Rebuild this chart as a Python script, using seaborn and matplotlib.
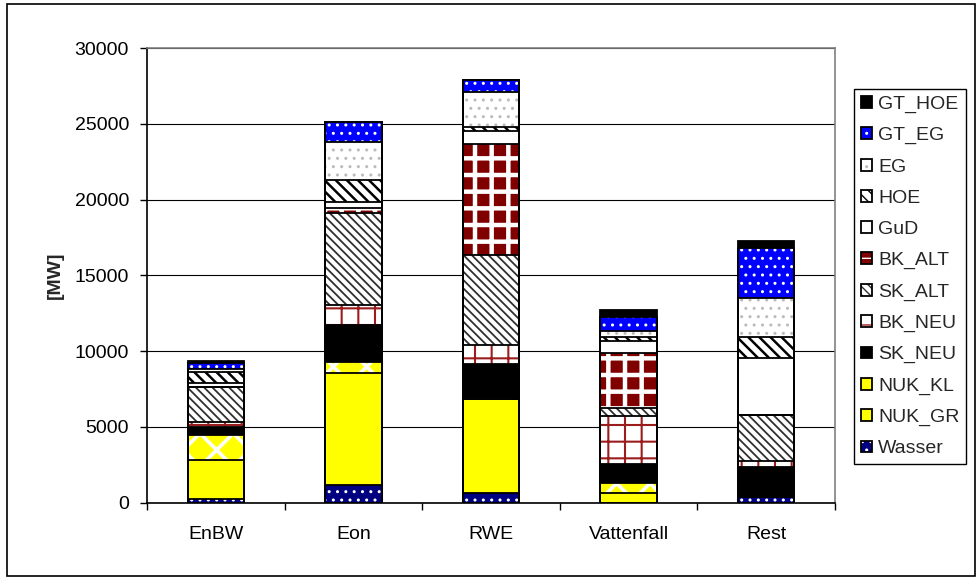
import numpy as np
import pandas as pd
import matplotlib
matplotlib.use('Agg')
import matplotlib.pyplot as plt
import seaborn as sns
from matplotlib.patches import Patch, Rectangle

# data (MW per company)
companies = ['EnBW', 'Eon', 'RWE', 'Vattenfall', 'Rest']
wasser  = [210, 1156, 650, 0, 383]
nuk_gr  = [2600, 7378, 6170, 600, 0]
nuk_kl  = [1650, 766, 0, 700, 0]
sk_neu  = [530, 2424, 2330, 1215, 1942]
bk_neu  = [350, 1321, 1255, 3210, 416]
sk_alt  = [2310, 6096, 5945, 490, 3038]
bk_alt  = [0, 331, 7330, 3672, 0]
gud     = [265, 396, 880, 793, 3785]
hoe     = [700, 1433, 224, 264, 1387]
eg      = [180, 2530, 2353, 397, 2536]
gt_eg   = [400, 1301, 771, 885, 3303]
gt_hoe  = [150, 0, 0, 482, 502]

series_names = ['Wasser', 'NUK_GR', 'NUK_KL', 'SK_NEU', 'BK_NEU', 'SK_ALT',
                'BK_ALT', 'GuD', 'HOE', 'EG', 'GT_EG', 'GT_HOE']
series_vals = [wasser, nuk_gr, nuk_kl, sk_neu, bk_neu, sk_alt,
               bk_alt, gud, hoe, eg, gt_eg, gt_hoe]

# face colour, hatch colour, hatch, hatch linewidth
styles = {
    'Wasser': ('#000080', 'white', '..', 1.0),
    'NUK_GR': ('#FFFF00', '#FFFF00', None, 1.0),
    'NUK_KL': ('#FFFF00', 'white', 'x', 2.6),
    'SK_NEU': ('black', 'black', None, 1.0),
    'BK_NEU': ('white', '#9B1C1C', '+', 1.5),
    'SK_ALT': ('white', '#303030', '\\\\\\\\', 1.3),
    'BK_ALT': ('#800000', 'white', '+', 3.2),
    'GuD':    ('white', 'white', None, 1.0),
    'HOE':    ('white', 'black', '\\\\\\', 1.8),
    'EG':     ('white', '#BBBBBB', '..', 1.0),
    'GT_EG':  ('#0000FF', 'white', '..', 1.0),
    'GT_HOE': ('black', 'black', None, 1.0),
}

df = pd.DataFrame(dict(zip(series_names, series_vals)), index=companies)
cum = df.cumsum(axis=1)

sns.set_theme(style='white')
plt.rcParams['font.family'] = ['Liberation Sans', 'DejaVu Sans']
plt.rcParams['font.size'] = 14

fig = plt.figure(figsize=(9.76, 5.77), dpi=100)
ax = fig.add_axes([147 / 976, 1 - 502.5 / 577, 688 / 976, 454.2 / 577])
ax.set_facecolor('white')

ax.set_ylim(0, 30000)
ax.set_yticks(np.arange(0, 30001, 5000))
ax.yaxis.grid(True, color='black', linewidth=0.8)
ax.set_axisbelow(True)

bar_w = 0.41

# fills: draw tallest cumulative first, lower ones cover it
for name in reversed(series_names):
    fc, hc, hatch, hlw = styles[name]
    n0 = len(ax.patches)
    sns.barplot(x=companies, y=cum[name].values, color=fc, saturation=1,
                width=bar_w, linewidth=0, ax=ax)
    for p in ax.patches[n0:]:
        p.set_facecolor(fc)
        p.set_edgecolor(hc)
        p.set_linewidth(0)
        if hatch:
            p.set_hatch(hatch)
            if hasattr(p, 'set_hatch_linewidth'):
                p.set_hatch_linewidth(hlw)

# black outlines of each segment
for name in series_names:
    n0 = len(ax.patches)
    sns.barplot(x=companies, y=cum[name].values, color='black', fill=False,
                width=bar_w, linewidth=1.3, ax=ax)
    for p in ax.patches[n0:]:
        p.set_facecolor('none')
        p.set_edgecolor('black')
        p.set_linewidth(1.3)

ax.set_xlim(-0.5, 4.5)
ax.set_xlabel('')
ax.set_ylabel('[MW]', fontweight='bold', fontsize=14)
ax.yaxis.set_label_coords(-0.121, 0.5)

ax.set_xticks(range(len(companies)))
ax.set_xticklabels(companies)
ax.set_xticks(np.arange(-0.5, 5, 1), minor=True)
ax.tick_params(axis='x', which='major', length=0, pad=17, labelsize=14, colors='black')
ax.tick_params(axis='x', which='minor', length=5, width=1, direction='out', color='black', bottom=True)
ax.tick_params(axis='y', length=5, width=1, direction='out', pad=8, labelsize=14,
               colors='black', left=True)

for side in ['left', 'bottom']:
    ax.spines[side].set_color('black')
    ax.spines[side].set_linewidth(1.2)
for side in ['top', 'right']:
    ax.spines[side].set_color('#808080')
    ax.spines[side].set_linewidth(1.2)

# legend, top entry first
handles = []
for name in reversed(series_names):
    fc, hc, hatch, hlw = styles[name]
    fill = Patch(facecolor=fc, edgecolor=hc, hatch=hatch, linewidth=0)
    edge = Patch(facecolor='none', edgecolor='black', linewidth=1.3)
    handles.append((fill, edge))
leg = fig.legend(handles, list(reversed(series_names)), loc='upper left',
                 bbox_to_anchor=(854 / 976, 1 - 89 / 577), borderaxespad=0,
                 frameon=True, fancybox=False, edgecolor='black', framealpha=1,
                 fontsize=14, handlelength=0.55, handleheight=0.55,
                 handletextpad=0.35, labelspacing=0.73, borderpad=0.35)
leg.get_frame().set_linewidth(1.0)

# chart area border
fig.add_artist(Rectangle((7 / 976, 1 / 577), (975 - 7) / 976, (573 - 1) / 577,
                         transform=fig.transFigure, fill=False,
                         edgecolor='black', linewidth=1.2))

fig.savefig('out.png', dpi=100)
